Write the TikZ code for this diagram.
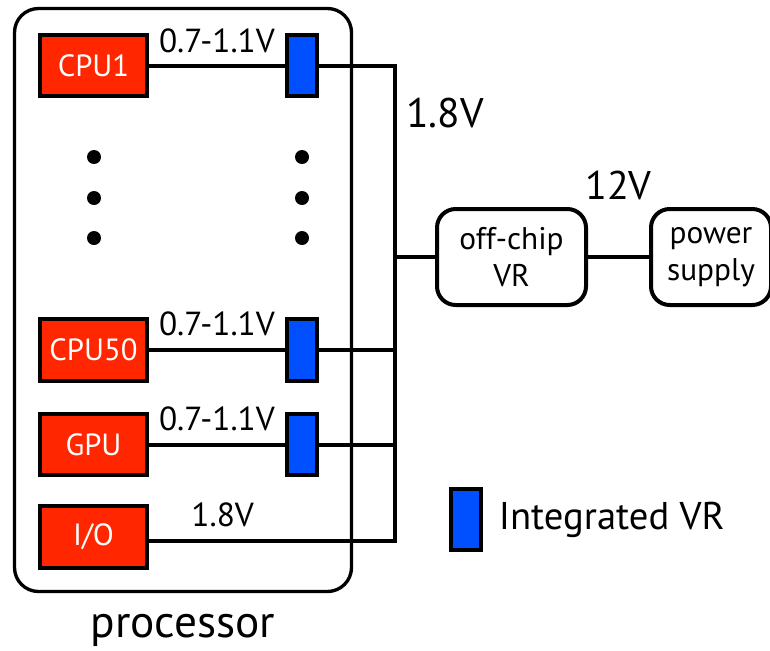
\documentclass[tikz,border=0pt]{standalone}
\usepackage{fontspec}
\setmainfont{PT Sans}
\usetikzlibrary{positioning}
\definecolor{rojochip}{RGB}{255,38,0}
\definecolor{azulvr}{RGB}{0,80,255}

\begin{document}
\begin{tikzpicture}[
  x=0.75pt, y=-0.75pt,
  bloque/.style={rectangle, draw, line width=3pt, fill=rojochip, text=white, minimum width=80pt, minimum height=46pt, inner sep=0pt, font=\fontsize{23}{25}\selectfont},
  ivr/.style={rectangle, draw, line width=3pt, fill=azulvr, minimum width=22.5pt, minimum height=46pt, inner sep=0pt},
  caja/.style={rectangle, rounded corners=14pt, draw, line width=3pt, align=center, minimum height=72pt, inner sep=0pt, font=\fontsize{23.5}{28}\selectfont},
  cable/.style={line width=3pt},
  volt/.style={font=\fontsize{25}{27}\selectfont, inner sep=0pt, above=9pt},
  punto/.style={circle, fill, minimum size=10.5pt, inner sep=0pt}
]
\useasboundingbox (0,0) rectangle (770,650);
\node[draw, rounded corners=18pt, line width=2.5pt, minimum width=252.75pt, minimum height=437.25pt,
  label={[font=\fontsize{34}{36}\selectfont, inner sep=0pt, label distance=16pt]below:processor}] (proc) at (183,300) {};
\node[bloque] (cpu1) at (93.5,65.5) {CPU1};
\node[bloque] (cpu50) at (93.5,350) {CPU50};
\node[bloque] (gpu) at (93.5,444.5) {GPU};
\node[bloque] (io) at (93.5,537) {I/O};
\node[ivr] (ivr1) at (302,65.5) {};
\node[ivr] (ivr50) at (302,350) {};
\node[ivr] (ivrg) at (302,444.5) {};
\foreach \y in {157,198,238} {
  \node[punto] (pi\y) at (94,\y) {};
  \node[punto] (pd\y) at (302,\y) {};
}
\coordinate (bus) at (395,541);
\node[caja, minimum width=111.75pt] (vr) at (511.5,257) {off-chip\\VR};
\node[caja, minimum width=90pt, right=45.75pt of vr] (psu) {power\\supply};
\node[font=\fontsize{31}{33}\selectfont] (v18) at (445,113) {1.8V};
\node[ivr] (leyenda) at (465.5,519.5) {};
\node[right=12pt of leyenda, inner sep=0pt, font=\fontsize{29}{31}\selectfont] (txtley) {Integrated VR};
\draw[cable] (cpu1) -- node[volt, above=8pt] {0.7-1.1V} (ivr1);
\draw[cable] (cpu50) -- node[volt] {0.7-1.1V} (ivr50);
\draw[cable] (gpu) -- node[volt] {0.7-1.1V} (ivrg);
\draw[cable] (io.east |- bus) -- node[volt, pos=0.3] {1.8V} (bus) |- (ivr1.east);
\draw[cable] (ivr50) -- (ivr50 -| bus);
\draw[cable] (ivrg) -- (ivrg -| bus);
\draw[cable] (vr) -- (vr -| bus);
\draw[cable] (vr) -- node[font=\fontsize{30}{32}\selectfont, inner sep=0pt, above=41pt] {12V} (psu);
\end{tikzpicture}
\end{document}
